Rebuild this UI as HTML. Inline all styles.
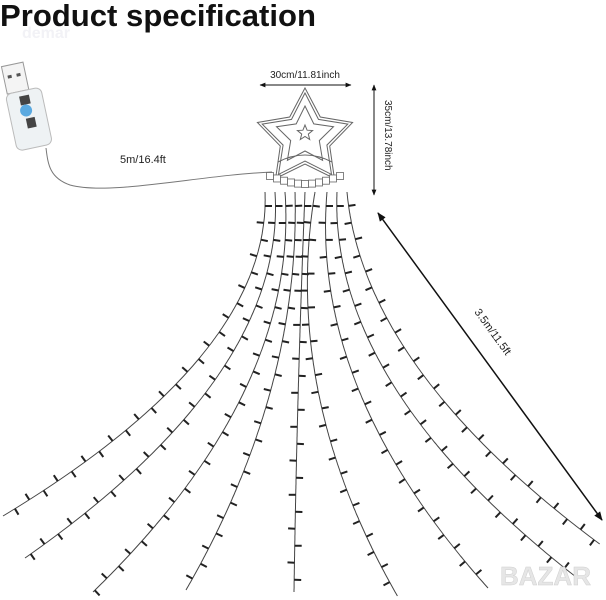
<!DOCTYPE html>
<html><head><meta charset="utf-8"><style>
html,body{margin:0;padding:0;background:#fff;width:606px;height:600px;overflow:hidden}
svg{display:block}
text{font-family:"Liberation Sans",sans-serif}
</style></head><body>
<svg id="s" width="606" height="600" viewBox="0 0 606 600" xmlns="http://www.w3.org/2000/svg">
<defs>
<marker id="a" viewBox="0 0 10 10" refX="9" refY="5" markerWidth="6" markerHeight="6" orient="auto-start-reverse"><path d="M0,1 L10,5 L0,9z" fill="#111"/></marker>
</defs>
<text x="0" y="26" font-size="31" font-weight="bold" fill="#111" textLength="316" lengthAdjust="spacingAndGlyphs">Product specification</text>
<text x="22" y="38" font-size="16" font-weight="bold" fill="#f2f2f6">demar</text>
<!-- USB -->
<g transform="rotate(-12 28 105)">
<rect x="10" y="62" width="22" height="28" fill="#f4f4f4" stroke="#999"/>
<rect x="14" y="72" width="4" height="3" fill="#555"/><rect x="23" y="72" width="4" height="3" fill="#555"/>
<rect x="8" y="90" width="36" height="58" rx="6" fill="#eef2f4" stroke="#bbb"/>
<rect x="21" y="95" width="10" height="9" fill="#444"/>
<circle cx="25" cy="110" r="6" fill="#5aa9e0"/>
<rect x="23" y="118" width="9" height="10" fill="#444"/>
</g>
<path d="M46,148 C48,165 50,178 70,185 C110,196 200,175 272,172" fill="none" stroke="#777" stroke-width="1"/>
<text x="120" y="163" font-size="11" fill="#222">5m/16.4ft</text>
<!-- dimensions -->
<text x="305" y="78" font-size="10" text-anchor="middle" fill="#222">30cm/11.81inch</text>
<line x1="260" y1="85" x2="351" y2="85" stroke="#111" stroke-width="1" marker-start="url(#a)" marker-end="url(#a)"/>
<line x1="374" y1="85" x2="374" y2="195" stroke="#111" stroke-width="1" marker-start="url(#a)" marker-end="url(#a)"/>
<text transform="translate(385,100) rotate(90)" font-size="10" fill="#222">35cm/13.78inch</text>
<line x1="378" y1="213" x2="602" y2="520" stroke="#111" stroke-width="1.5" marker-start="url(#a)" marker-end="url(#a)"/>
<text transform="translate(474,312) rotate(54)" font-size="11" fill="#222">3.5m/11.5ft</text>
<!-- star -->
<g fill="none" stroke="#666" stroke-width="1">
<polygon id="st1" points=""/>
<polygon id="st2" points=""/>
<polygon id="st3" points=""/>
<polygon id="st4" points=""/>
<path d="M278,162 Q305,148 332,162"/>
</g>
<g id="beads" fill="#fff" stroke="#666" stroke-width="0.8"></g>
<g id="str" fill="none" stroke="#444" stroke-width="1"></g>
<g id="tk" stroke="#222" stroke-width="2"></g>
<text x="500" y="585" font-size="26" font-weight="bold" fill="#e6e6e6" stroke="#d0d0d0" stroke-width="0.5">BAZAR</text>
</svg>
<script>
(function(){
var NS="http://www.w3.org/2000/svg";
function star(cx,cy,R,r){var p=[];for(var i=0;i<10;i++){var rr=i%2?r:R;var a=-Math.PI/2+i*Math.PI/5;p.push((cx+rr*Math.cos(a)).toFixed(1)+","+(cy+rr*Math.sin(a)).toFixed(1));}return p.join(" ");}
document.getElementById("st1").setAttribute("points",star(305,138,50,26));
document.getElementById("st2").setAttribute("points",star(305,138,45,23));
document.getElementById("st3").setAttribute("points",star(305,136,30,15));
document.getElementById("st4").setAttribute("points",star(305,133,8,3.5));
var b=document.getElementById("beads");
for(var i=0;i<11;i++){var t=i/10;var x=270+t*70;var y=176+Math.sin(t*Math.PI)*8;
var r=document.createElementNS(NS,"rect");r.setAttribute("x",x-3.5);r.setAttribute("y",y-3.5);r.setAttribute("width",7);r.setAttribute("height",7);b.appendChild(r);}
var S=[[265,160,3,516],[275,200,25,558],[285,240,93,592],[295,268,186,590],[305,298,294,592],[315,320,398,597],[327,363,488,588],[337,403,576,577],[347,443,601,545]];
var g=document.getElementById("str"),tk=document.getElementById("tk");
S.forEach(function(s){
var y0=192,y1=400,y2=s[3],x0=s[0],x1=s[1],x2=s[2];
function X(y){return x0*(y-y1)*(y-y2)/((y0-y1)*(y0-y2))+x1*(y-y0)*(y-y2)/((y1-y0)*(y1-y2))+x2*(y-y0)*(y-y1)/((y2-y0)*(y2-y1));}
var pts=[];for(var y=y0;y<=y2+0.01;y+=2){pts.push(X(y).toFixed(1)+","+y.toFixed(1));}
var p=document.createElementNS(NS,"path");
p.setAttribute("d","M"+pts.join(" L"));g.appendChild(p);
var L=p.getTotalLength();var side=0;
for(var d=14;d<L-2;d+=17){
var a=p.getPointAtLength(d),c=p.getPointAtLength(Math.min(L,d+1));
var dx=c.x-a.x,dy=c.y-a.y,m=Math.hypot(dx,dy)||1;var nx=-dy/m,ny=dx/m;var sg=(side++%2)?1:-1;
var ln=document.createElementNS(NS,"line");
ln.setAttribute("x1",a.x.toFixed(1));ln.setAttribute("y1",a.y.toFixed(1));
ln.setAttribute("x2",(a.x+sg*nx*7).toFixed(1));ln.setAttribute("y2",(a.y+sg*ny*7).toFixed(1));
tk.appendChild(ln);}
});
})();
</script>
</body></html>
